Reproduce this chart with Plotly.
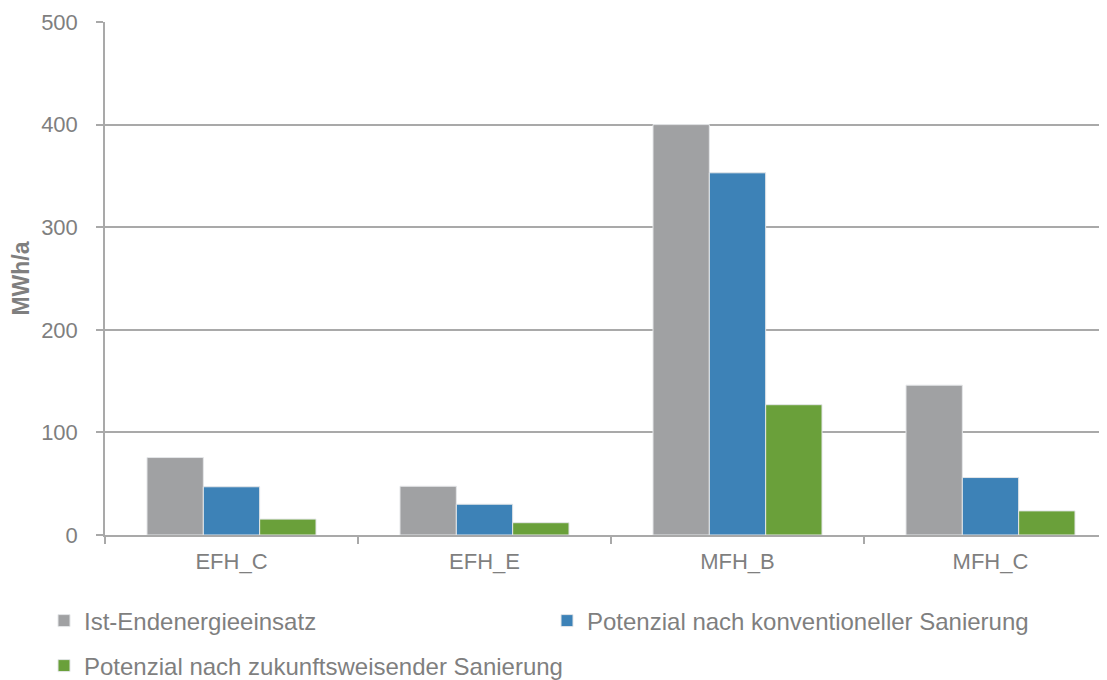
import plotly.graph_objects as go

categories = ["EFH_C", "EFH_E", "MFH_B", "MFH_C"]
series_names = ["Ist-Endenergieeinsatz",
                "Potenzial nach konventioneller Sanierung",
                "Potenzial nach zukunftsweisender Sanierung"]
ist = [75.5, 47.5, 400, 146]
konv = [47, 30, 353, 56]
zukunft = [15.5, 12, 127, 23.5]
colors = ["#A0A1A3", "#3D82B7", "#6AA03A"]
y_ticks = [0, 100, 200, 300, 400, 500]

FONT = "Liberation Sans, Arial, sans-serif"
TXT = "#7F7F7F"
GRID = "#A9A9A9"

# the page body has an 8px margin, so the figure is sized to fit the window
W, H = 1099, 672
OFF = 8

fig = go.Figure()
legend_ids = ["legend", "legend2", "legend3"]
for i, (name, vals) in enumerate(zip(series_names, [ist, konv, zukunft])):
    fig.add_trace(go.Bar(
        x=categories, y=vals, name=name,
        marker=dict(color=colors[i], line=dict(color="#E4E6E8", width=1)),
        legend=legend_ids[i],
    ))


def leg(px_x, px_y):
    return dict(
        orientation="h", xref="container", yref="container",
        x=(px_x - OFF) / W, y=1 - (px_y - OFF) / H,
        xanchor="left", yanchor="middle",
        font=dict(size=24, color=TXT, family=FONT), itemwidth=30,
        bgcolor="rgba(0,0,0,0)",
    )


fig.update_layout(
    width=W, height=H,
    margin=dict(l=105 - OFF, r=0, t=22 - OFF, b=145, autoexpand=False),
    paper_bgcolor="white", plot_bgcolor="white",
    barmode="group", bargap=0.332, bargroupgap=0,
    font=dict(family=FONT, color=TXT, size=22),
    showlegend=True,
    xaxis=dict(
        range=[-0.5, 3.5 - 10 / 253],
        showline=True, linecolor=GRID, linewidth=1.5,
        ticks="outside", tickson="boundaries", ticklen=7, tickcolor=GRID, tickwidth=1.5,
        tickfont=dict(size=22, color=TXT), showgrid=False,
        ticklabelstandoff=6,
    ),
    yaxis=dict(
        range=[0, 500], tickvals=y_ticks,
        showline=True, linecolor=GRID, linewidth=1.5,
        ticks="outside", ticklen=7, tickcolor=GRID, tickwidth=1.5,
        gridcolor=GRID, gridwidth=1.5, zeroline=False,
        tickfont=dict(size=22, color=TXT),
        ticklabelstandoff=14,
        title=dict(text="<b>MWh/a</b>", font=dict(size=23, color=TXT), standoff=10),
    ),
    legend=leg(44, 621),
    legend2=leg(547, 621),
    legend3=leg(44, 666),
)

fig.write_html("out.html")
